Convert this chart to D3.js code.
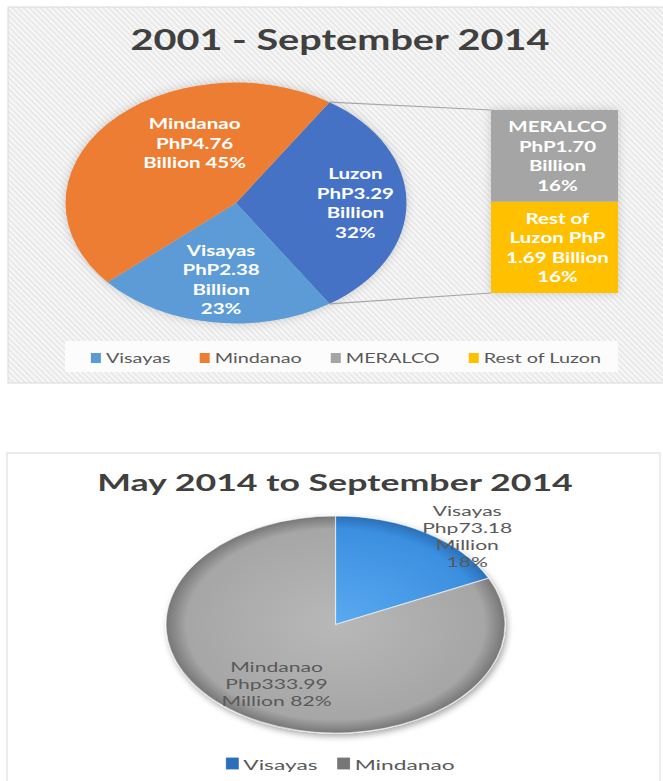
<!DOCTYPE html>
<html>
<head>
<meta charset="utf-8">
<script src="https://cdn.jsdelivr.net/npm/d3@7"></script>
<style>
  body { margin: 0; background: #fff; }
  svg { display: block; font-family: Lato, "Open Sans", sans-serif; }
</style>
</head>
<body>
<div id="chart"></div>
<script>
// top chart: 2001 - September 2014 (PhP billion)
var regions = ["Luzon", "Visayas", "Mindanao"];
var regionValues = [3.29, 2.38, 4.76];
var regionPct = ["32%", "23%", "45%"];
var luzonParts = ["MERALCO", "Rest of Luzon"];
var luzonValues = [1.70, 1.69];
var luzonPct = ["16%", "16%"];
var topLegend = ["Visayas", "Mindanao", "MERALCO", "Rest of Luzon"];

// bottom chart: May 2014 to September 2014 (Php million)
var recentRegions = ["Visayas", "Mindanao"];
var recentValues = [73.18, 333.99];
var recentPct = ["18%", "82%"];

var colors = {
  "Luzon": "#4472c4", "Visayas": "#5b9bd5", "Mindanao": "#ed7d31",
  "MERALCO": "#a5a5a5", "Rest of Luzon": "#ffc000"
};

var W = 663, H = 781;
var svg = d3.select("#chart").append("svg")
    .attr("width", W)
    .attr("height", H);

var defs = svg.append("defs");

// diagonal hatch for the top panel
var hatch = defs.append("pattern")
    .attr("id", "hatch")
    .attr("patternUnits", "userSpaceOnUse")
    .attr("width", 4).attr("height", 4)
    .attr("patternTransform", "rotate(45)");
hatch.append("rect").attr("width", 4).attr("height", 4).attr("fill", "#f7f7f7");
hatch.append("rect").attr("width", 4).attr("height", 1.6).attr("fill", "#e6e6e6");

var glow = defs.append("filter").attr("id", "glow")
    .attr("x", "-20%").attr("y", "-20%").attr("width", "140%").attr("height", "140%");
glow.append("feDropShadow").attr("dx", 0).attr("dy", 0)
    .attr("stdDeviation", 5).attr("flood-color", "#000").attr("flood-opacity", 0.18);

var shadow3d = defs.append("filter").attr("id", "shadow3d")
    .attr("x", "-20%").attr("y", "-20%").attr("width", "140%").attr("height", "140%");
shadow3d.append("feDropShadow").attr("dx", 2).attr("dy", 3)
    .attr("stdDeviation", 3).attr("flood-color", "#000").attr("flood-opacity", 0.35);

// scaled text helper (the picture is stretched sideways)
function stext(g, x, y, str, sx) {
  return g.append("text")
      .attr("transform", "translate(" + x + "," + y + ") scale(" + sx + ",1)")
      .attr("text-anchor", "middle")
      .attr("dominant-baseline", "central")
      .text(str);
}
function block(g, x, y, lines, lh, sx, style) {
  lines.forEach(function(l, i) {
    var t = stext(g, x, y + (i - (lines.length - 1) / 2) * lh, l, sx);
    style(t);
  });
}

// ---------------- top panel ----------------
var topG = svg.append("g");
topG.append("rect")
    .attr("x", 8).attr("y", 7).attr("width", 660).attr("height", 376)
    .attr("fill", "url(#hatch)")
    .attr("stroke", "#d9d9d9");

var title1 = topG.append("text")
    .attr("text-anchor", "middle")
    .style("font-size", "28px").style("font-weight", "bold")
    .attr("fill", "#404040")
    .text("2001 - September 2014");
var sxTop = 419 / title1.node().getComputedTextLength();
title1.attr("transform", "translate(340,50) scale(" + sxTop + ",1)");

var p1 = {cx: 236, cy: 203, rx: 170.5, ry: 120.5};
var total1 = d3.sum(regionValues);
var luzonAngle = 2 * Math.PI * regionValues[0] / total1;
var start1 = Math.PI / 2 - luzonAngle / 2;
var pie1 = d3.pie().sort(null).value(function(d) { return d; })
    .startAngle(start1).endAngle(start1 + 2 * Math.PI);
var arcs1 = pie1(regionValues);
var arc1 = d3.arc().innerRadius(0).outerRadius(p1.ry);

var pieG1 = topG.append("g")
    .attr("filter", "url(#glow)");
pieG1.append("g")
    .attr("transform", "translate(" + p1.cx + "," + p1.cy + ") scale(" + (p1.rx / p1.ry) + ",1)")
  .selectAll("path")
  .data(arcs1)
  .enter().append("path")
    .attr("d", arc1)
    .attr("fill", function(d, i) { return colors[regions[i]]; });

// secondary stacked bar for Luzon split
var bar = {x: 491, w: 127, top: 110, h: 183};
var yBar = d3.scaleLinear().domain([0, d3.sum(luzonValues)]).range([0, bar.h]);
var cum = 0;
var barSegs = luzonValues.map(function(v, i) {
  var s = {name: luzonParts[i], v: v, y0: cum};
  cum += v;
  s.y1 = cum;
  return s;
});

function ptOnPie(a) {
  return [p1.cx + p1.rx * Math.sin(a), p1.cy - p1.ry * Math.cos(a)];
}
var pa = ptOnPie(arcs1[0].startAngle), pb = ptOnPie(arcs1[0].endAngle);
topG.append("line")
    .attr("x1", pa[0]).attr("y1", pa[1])
    .attr("x2", bar.x).attr("y2", bar.top + yBar(barSegs[0].y0))
    .attr("stroke", "#a6a6a6").attr("stroke-width", 1.2);
topG.append("line")
    .attr("x1", pb[0]).attr("y1", pb[1])
    .attr("x2", bar.x).attr("y2", bar.top + yBar(barSegs[1].y1))
    .attr("stroke", "#a6a6a6").attr("stroke-width", 1.2);

topG.append("g").attr("filter", "url(#glow)")
  .selectAll("rect")
  .data(barSegs)
  .enter().append("rect")
    .attr("x", bar.x)
    .attr("y", function(d) { return bar.top + yBar(d.y0); })
    .attr("width", bar.w)
    .attr("height", function(d) { return yBar(d.y1) - yBar(d.y0); })
    .attr("fill", function(d) { return colors[d.name]; });

// labels
function topLines(name, v, pct) {
  if (name == "Mindanao") return [name, "PhP" + v.toFixed(2), "Billion " + pct];
  if (name == "Rest of Luzon") return ["Rest of", "Luzon  PhP", v.toFixed(2) + " Billion", pct];
  return [name, "PhP" + v.toFixed(2), "Billion", pct];
}
var whiteBold = function(t) {
  t.attr("fill", "#fff").style("font-size", "14.5px").style("font-weight", "bold");
};
// [angle shift in degrees, radius fraction]
var labelPolar1 = {"Luzon": [0, 0.70], "Visayas": [0, 0.64], "Mindanao": [23, 0.555]};
arcs1.forEach(function(d, i) {
  var name = regions[i];
  var lp = labelPolar1[name];
  var a = (d.startAngle + d.endAngle) / 2 + lp[0] * Math.PI / 180;
  var x = p1.cx + p1.rx * lp[1] * Math.sin(a);
  var y = p1.cy - p1.ry * lp[1] * Math.cos(a);
  block(topG, x, y, topLines(name, regionValues[i], regionPct[i]), 19.5, sxTop, whiteBold);
});
barSegs.forEach(function(s, i) {
  var yc = bar.top + (yBar(s.y0) + yBar(s.y1)) / 2;
  block(topG, bar.x + bar.w / 2 + 3, yc, topLines(s.name, s.v, luzonPct[i]), 19.5, sxTop, whiteBold);
});

// legend
topG.append("rect")
    .attr("x", 65).attr("y", 341).attr("width", 553).attr("height", 31)
    .attr("fill", "#fcfcfc");
var legG1 = topG.append("g");
var lx = 0;
var legItems1 = topLegend.map(function(name) {
  var t = legG1.append("text")
      .attr("dominant-baseline", "central")
      .style("font-size", "14px")
      .attr("fill", "#595959")
      .text(name);
  var w = t.node().getComputedTextLength() * sxTop;
  var item = {name: name, t: t, x: lx};
  lx += 10 + 5 + w + 29;
  return item;
});
var legW1 = lx - 29;
var lx0 = 346 - legW1 / 2;
legItems1.forEach(function(it) {
  legG1.append("rect")
      .attr("x", lx0 + it.x).attr("y", 353)
      .attr("width", 10).attr("height", 10)
      .attr("fill", colors[it.name]);
  it.t.attr("transform", "translate(" + (lx0 + it.x + 15) + ",358) scale(" + sxTop + ",1)");
});

// ---------------- bottom panel ----------------
var botG = svg.append("g");
botG.append("rect")
    .attr("x", 7).attr("y", 453).attr("width", 653).attr("height", 340)
    .attr("fill", "#fff")
    .attr("stroke", "#d9d9d9");

var title2 = botG.append("text")
    .attr("text-anchor", "middle")
    .style("font-size", "22px").style("font-weight", "bold")
    .attr("fill", "#404040")
    .text("May 2014 to September 2014");
var sxBot = 476 / title2.node().getComputedTextLength();
title2.attr("transform", "translate(335,491) scale(" + sxBot + ",1)");

var p2 = {cx: 335.5, cy: 624.5, rx: 169.5, ry: 108.5};
var pie2 = d3.pie().sort(null).value(function(d) { return d; });
var arcs2 = pie2(recentValues);
var arc2 = d3.arc().innerRadius(0).outerRadius(p2.ry);

var grads = {
  "Visayas": ["#5aaaf0", "#3b8fe0", "#2a6fb8"],
  "Mindanao": ["#b8b8b8", "#a6a6a6", "#767676"]
};
recentRegions.forEach(function(name) {
  var g = defs.append("radialGradient")
      .attr("id", "g-" + name)
      .attr("gradientUnits", "userSpaceOnUse")
      .attr("cx", 0).attr("cy", 0).attr("r", p2.ry);
  g.append("stop").attr("offset", "0%").attr("stop-color", grads[name][0]);
  g.append("stop").attr("offset", "88%").attr("stop-color", grads[name][1]);
  g.append("stop").attr("offset", "100%").attr("stop-color", grads[name][2]);
});

botG.append("g")
    .attr("filter", "url(#shadow3d)")
  .append("g")
    .attr("transform", "translate(" + p2.cx + "," + p2.cy + ") scale(" + (p2.rx / p2.ry) + ",1)")
  .selectAll("path")
  .data(arcs2)
  .enter().append("path")
    .attr("d", arc2)
    .attr("fill", function(d, i) { return "url(#g-" + recentRegions[i] + ")"; })
    .attr("stroke", "rgba(255,255,255,0.55)")
    .attr("stroke-width", 1.2)
    .attr("vector-effect", "non-scaling-stroke");

var greyText = function(t) {
  t.attr("fill", "#595959").style("font-size", "13px");
};
var labelPolar2 = {"Visayas": [11.6, 1.12], "Mindanao": [0, 0.65]};
arcs2.forEach(function(d, i) {
  var name = recentRegions[i];
  var lp = labelPolar2[name];
  var a = (d.startAngle + d.endAngle) / 2 + lp[0] * Math.PI / 180;
  var x = p2.cx + p2.rx * lp[1] * Math.sin(a);
  var y = p2.cy - p2.ry * lp[1] * Math.cos(a);
  var v = "Php" + recentValues[i].toFixed(2);
  var lines = name == "Mindanao"
      ? [name, v, "Million " + recentPct[i]]
      : [name, v, "Million", recentPct[i]];
  block(botG, x, y, lines, 17, sxBot, greyText);
});

// bottom legend
var legG2 = botG.append("g");
lx = 0;
var legItems2 = recentRegions.map(function(name) {
  var t = legG2.append("text")
      .attr("dominant-baseline", "central")
      .style("font-size", "14px")
      .attr("fill", "#595959")
      .text(name);
  var w = t.node().getComputedTextLength() * sxBot;
  var item = {name: name, t: t, x: lx};
  lx += 12 + 5 + w + 20;
  return item;
});
var lx2 = 340.5 - (lx - 20) / 2;
legItems2.forEach(function(it) {
  legG2.append("rect")
      .attr("x", lx2 + it.x).attr("y", 758)
      .attr("width", 12).attr("height", 11)
      .attr("fill", "url(#g-" + it.name + ")")
      .attr("stroke", it.name == "Visayas" ? "#2a6fb8" : "#767676")
      .attr("stroke-width", 0.8);
  it.t.attr("transform", "translate(" + (lx2 + it.x + 17) + ",764) scale(" + sxBot + ",1)");
});
</script>
</body>
</html>
